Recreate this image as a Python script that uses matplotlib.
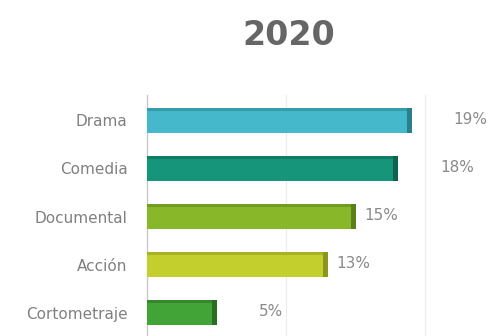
import numpy as np
import matplotlib
matplotlib.use("Agg")
import matplotlib.pyplot as plt

# data
categories = ["Drama", "Comedia", "Documental", "Acción", "Cortometraje"]
values = [19, 18, 15, 13, 5]
labels = ["19%", "18%", "15%", "13%", "5%"]

colors = ["#45b9cb", "#17957a", "#88b82a", "#c3cf2c", "#42a336"]
edge_colors = ["#2a7f8f", "#0e6450", "#5c7f1a", "#8c951c", "#2b6e23"]
label_pad = [42, 43, 8, 8, 42]  # px gap between bar end and label

fig = plt.figure(figsize=(4.97, 3.36), dpi=100)
ax = fig.add_axes([0.296, 0.0, 0.70, 0.717])

y = np.arange(len(categories))
ax.barh(y, values, height=0.52, color=colors, zorder=3)
# darker end cap for the 3d look
ax.barh(y, [0.35] * len(values), left=np.array(values) - 0.35, height=0.52,
        color=edge_colors, zorder=4)
# darker top edge
ax.barh(y - 0.23, values, height=0.06, color=edge_colors, alpha=0.5, zorder=4)

for yi, v, lab, pad in zip(y, values, labels, label_pad):
    ax.annotate(lab, (v, yi), xytext=(pad, 1), textcoords="offset pixels",
                va="center", ha="left", fontsize=11, color="#8a8a8a")

ax.set_yticks(y)
ax.set_yticklabels(categories, fontsize=11, color="#808080")
ax.set_xlim(0, 25)
ax.set_ylim(4.48, -0.52)
ax.set_xticks([10, 20])
ax.tick_params(axis="x", length=0, labelbottom=False)
ax.tick_params(axis="y", length=0, pad=14)
ax.grid(axis="x", color="#ececec", linewidth=0.8, zorder=0)
for side in ["top", "right", "bottom"]:
    ax.spines[side].set_visible(False)
ax.spines["left"].set_color("#c8c8d0")
ax.spines["left"].set_linewidth(1.0)

fig.text(0.58, 0.895, "2020", ha="center", va="center", fontsize=24,
         fontweight="bold", color="#666666")

fig.savefig("out.png", dpi=100)
